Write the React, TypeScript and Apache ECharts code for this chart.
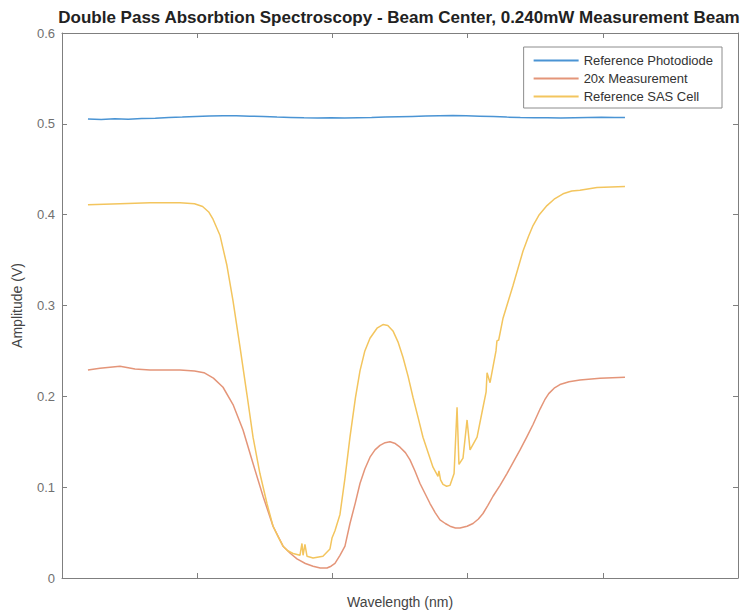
import React, { useEffect, useRef } from "react";
import * as echarts from "echarts";

const seriesNames = ["Reference Photodiode", "20x Measurement", "Reference SAS Cell"];
const seriesColors = ["#4a94d4", "#e49579", "#f3c55e"];

const yTicks = [0, 0.1, 0.2, 0.3, 0.4, 0.5, 0.6];

// x in axis units (0..5), y in volts
const photodiodeX = [0.192, 0.29, 0.39, 0.49, 0.59, 0.69, 0.79, 0.89, 0.99, 1.09, 1.19, 1.29, 1.39, 1.49, 1.59, 1.69, 1.79, 1.89, 1.99, 2.09, 2.19, 2.29, 2.39, 2.49, 2.59, 2.69, 2.79, 2.89, 2.99, 3.09, 3.19, 3.29, 3.39, 3.49, 3.59, 3.69, 3.79, 3.89, 3.99, 4.09, 4.164];
const photodiodeY = [0.5052, 0.5048, 0.5055, 0.505, 0.5058, 0.5062, 0.507, 0.5075, 0.5082, 0.5086, 0.509, 0.5088, 0.5084, 0.508, 0.5074, 0.507, 0.5066, 0.5064, 0.5066, 0.5063, 0.5068, 0.507, 0.5074, 0.5078, 0.5082, 0.5086, 0.509, 0.5092, 0.5088, 0.5084, 0.508, 0.5074, 0.507, 0.5068, 0.5066, 0.5064, 0.5067, 0.507, 0.5072, 0.5071, 0.507];

const measurementX = [0.192, 0.281, 0.429, 0.54, 0.651, 0.873, 0.98, 1.05, 1.12, 1.191, 1.265, 1.339, 1.413, 1.487, 1.561, 1.635, 1.69, 1.738, 1.8, 1.857, 1.91, 1.96, 1.99, 2.019, 2.056, 2.093, 2.13, 2.17, 2.204, 2.24, 2.278, 2.315, 2.352, 2.39, 2.426, 2.465, 2.5, 2.54, 2.574, 2.61, 2.648, 2.685, 2.722, 2.76, 2.796, 2.835, 2.87, 2.91, 2.944, 2.996, 3.04, 3.08, 3.114, 3.15, 3.188, 3.24, 3.291, 3.34, 3.388, 3.44, 3.484, 3.536, 3.57, 3.6, 3.64, 3.683, 3.75, 3.831, 3.979, 4.164];
const measurementY = [0.229, 0.231, 0.233, 0.23, 0.229, 0.229, 0.228, 0.226, 0.22, 0.21, 0.191, 0.163, 0.126, 0.09, 0.057, 0.035, 0.027, 0.021, 0.016, 0.013, 0.011, 0.011, 0.013, 0.016, 0.025, 0.035, 0.06, 0.083, 0.104, 0.12, 0.133, 0.141, 0.146, 0.149, 0.15, 0.148, 0.144, 0.138, 0.13, 0.118, 0.104, 0.093, 0.082, 0.072, 0.064, 0.06, 0.057, 0.055, 0.055, 0.057, 0.06, 0.065, 0.071, 0.08, 0.09, 0.102, 0.115, 0.128, 0.141, 0.156, 0.169, 0.186, 0.196, 0.203, 0.209, 0.213, 0.216, 0.218, 0.22, 0.221];

const sasX = [0.192, 0.429, 0.651, 0.873, 0.98, 1.04, 1.085, 1.117, 1.169, 1.22, 1.265, 1.317, 1.368, 1.413, 1.464, 1.516, 1.561, 1.6, 1.635, 1.67, 1.709, 1.76, 1.775, 1.783, 1.797, 1.812, 1.857, 1.93, 1.982, 1.997, 2.019, 2.056, 2.093, 2.13, 2.17, 2.204, 2.24, 2.278, 2.33, 2.374, 2.41, 2.448, 2.485, 2.522, 2.56, 2.596, 2.635, 2.67, 2.71, 2.744, 2.781, 2.788, 2.8, 2.818, 2.845, 2.87, 2.9, 2.922, 2.936, 2.966, 2.996, 3.018, 3.07, 3.114, 3.137, 3.144, 3.166, 3.21, 3.217, 3.23, 3.262, 3.336, 3.41, 3.45, 3.484, 3.53, 3.587, 3.64, 3.706, 3.77, 3.831, 3.957, 4.164];
const sasY = [0.411, 0.412, 0.413, 0.413, 0.412, 0.409, 0.403, 0.395, 0.377, 0.344, 0.305, 0.254, 0.202, 0.155, 0.115, 0.082, 0.057, 0.045, 0.035, 0.03, 0.027, 0.025, 0.038, 0.025, 0.037, 0.024, 0.022, 0.024, 0.032, 0.044, 0.052, 0.07, 0.11, 0.155, 0.198, 0.228, 0.25, 0.264, 0.275, 0.279, 0.278, 0.272, 0.26, 0.243, 0.222, 0.199, 0.176, 0.155, 0.137, 0.122, 0.112, 0.118, 0.108, 0.103, 0.101, 0.102, 0.115, 0.188, 0.125, 0.132, 0.174, 0.141, 0.155, 0.188, 0.205, 0.226, 0.215, 0.25, 0.261, 0.262, 0.286, 0.322, 0.36, 0.376, 0.388, 0.4, 0.41, 0.417, 0.423, 0.426, 0.427, 0.43, 0.431];

const zip = (xs: number[], ys: number[]) => xs.map((x, i) => [x, ys[i]]);

export default function App() {
  const ref = useRef<HTMLDivElement>(null);
  useEffect(() => {
    if (!ref.current) return;
    const chart = echarts.init(ref.current, null, { renderer: "svg" });
    const axisLine = () => ({ show: true, onZero: false, lineStyle: { color: "#7f7f7f", width: 1 } });
    const tick = () => ({ show: true, inside: true, length: 5, lineStyle: { color: "#7f7f7f", width: 1 } });
    const font = "Liberation Sans, Arial, sans-serif";
    const datasets = [zip(photodiodeX, photodiodeY), zip(measurementX, measurementY), zip(sasX, sasY)];
    chart.setOption({
      animation: false,
      backgroundColor: "#ffffff",
      title: {
        text: "Double Pass Absorbtion Spectroscopy - Beam Center, 0.240mW Measurement Beam",
        left: 394,
        top: 4,
        textAlign: "center",
        textStyle: { fontFamily: font, fontSize: 17, fontWeight: "bold", color: "#222" },
      },
      legend: {
        orient: "vertical",
        right: 23,
        top: 47,
        backgroundColor: "#fff",
        borderColor: "#8c8c8c",
        borderWidth: 1,
        padding: [7, 9, 5, 10],
        itemGap: 5,
        itemWidth: 45,
        itemHeight: 2,
        icon: "rect",
        textStyle: { fontFamily: font, fontSize: 13, color: "#333" },
        data: seriesNames,
      },
      grid: { left: 62, right: 7, top: 33, bottom: 32, containLabel: false },
      xAxis: [
        {
          type: "value",
          min: 0,
          max: 5,
          interval: 1,
          position: "bottom",
          axisLine: axisLine(),
          axisTick: tick(),
          axisLabel: { show: false },
          splitLine: { show: false },
          name: "Wavelength (nm)",
          nameLocation: "middle",
          nameGap: 17,
          nameTextStyle: { fontFamily: font, fontSize: 14, color: "#444" },
        },
        {
          type: "value",
          min: 0,
          max: 5,
          interval: 1,
          position: "top",
          axisLine: axisLine(),
          axisTick: tick(),
          axisLabel: { show: false },
          splitLine: { show: false },
        },
      ],
      yAxis: [
        {
          type: "value",
          min: 0,
          max: 0.6,
          interval: 0.1,
          position: "left",
          axisLine: axisLine(),
          axisTick: tick(),
          axisLabel: {
            fontFamily: font,
            fontSize: 13,
            color: "#707070",
            margin: 7,
            formatter: (v: number) => {
              const t = yTicks.find((k) => Math.abs(k - v) < 1e-9);
              return t === 0 ? "0" : (t ?? v).toFixed(1);
            },
          },
          splitLine: { show: false },
          name: "Amplitude (V)",
          nameLocation: "middle",
          nameGap: 38,
          nameTextStyle: { fontFamily: font, fontSize: 14, color: "#444" },
        },
        {
          type: "value",
          min: 0,
          max: 0.6,
          interval: 0.1,
          position: "right",
          axisLine: axisLine(),
          axisTick: tick(),
          axisLabel: { show: false },
          splitLine: { show: false },
        },
      ],
      series: seriesNames.map((name, i) => ({
        name,
        type: "line",
        data: datasets[i],
        symbol: "none",
        smooth: false,
        lineStyle: { color: seriesColors[i], width: 1.5 },
        itemStyle: { color: seriesColors[i] },
        xAxisIndex: 0,
        yAxisIndex: 0,
      })),
    });
    return () => chart.dispose();
  }, []);
  return (
    <div
      ref={ref}
      style={{ position: "absolute", left: 0, top: 0, width: 745, height: 614, background: "#fff" }}
    />
  );
}
